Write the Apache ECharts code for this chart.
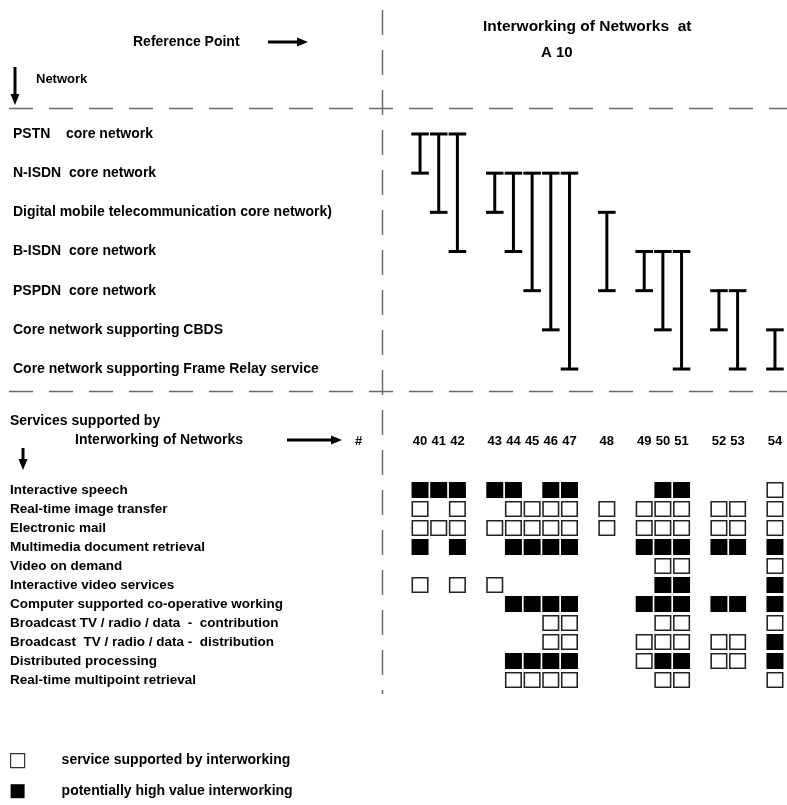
<!DOCTYPE html>
<html><head><meta charset="utf-8">
<script src="https://cdn.jsdelivr.net/npm/echarts@6/dist/echarts.min.js"></script>
<style>html,body{margin:0;padding:0;background:#fff}#c{width:787px;height:805px}</style>
</head><body><div id="c"></div>
<script>
// ---------- data ----------
const networks = [
  'PSTN    core network',
  'N-ISDN  core network',
  'Digital mobile telecommunication core network)',
  'B-ISDN  core network',
  'PSPDN  core network',
  'Core network supporting CBDS',
  'Core network supporting Frame Relay service'
];
// interworking case numbers, in visual groups
const columnGroups = [['40','41','42'], ['43','44','45','46','47'], ['48'], ['49','50','51'], ['52','53'], ['54']];
// for each case 40..54: [network index, network index] that are interworked
const links = [[0,1],[0,2],[0,3],[1,2],[1,3],[1,4],[1,5],[1,6],[2,4],[3,4],[3,5],[3,6],[4,5],[4,6],[5,6]];
const services = [
  'Interactive speech',
  'Real-time image transfer',
  'Electronic mail',
  'Multimedia document retrieval',
  'Video on demand',
  'Interactive video services',
  'Computer supported co-operative working',
  'Broadcast TV / radio / data  -  contribution',
  'Broadcast  TV / radio / data -  distribution',
  'Distributed processing',
  'Real-time multipoint retrieval'
];
// per service, one code per case 40..54: O = supported, F = potentially high value, . = none
const support = [
  'FFFFF.FF..FF..O',
  'O.O.OOOOOOOOOOO',
  'OOOOOOOOOOOOOOO',
  'F.F.FFFF.FFFFFF',
  '..........OO..O',
  'O.OO......FF..F',
  '....FFFF.FFFFFF',
  '......OO..OO..O',
  '......OO.OOOOOF',
  '....FFFF.OFFOOF',
  '....OOOO..OO..O'
];
const legendNames = ['service supported by interworking', 'potentially high value interworking'];

// ---------- build ----------
const slots = [];
columnGroups.forEach((g, i) => { if (i > 0) slots.push(' '.repeat(i)); slots.push(...g); });
const cases = columnGroups.flat();
const slotOf = cases.map(c => slots.indexOf(c));

const linkData = links.map((l, i) => [slotOf[i], l[0], l[1]]);
const openData = [], fullData = [];
support.forEach((row, si) => {
  row.split('').forEach((ch, ci) => {
    if (ch === 'O') openData.push([slotOf[ci], si]);
    else if (ch === 'F') fullData.push([slotOf[ci], si]);
  });
});

const FONT = 'Liberation Sans';
const label = (x, y, s, size) => ({ type: 'text', x: x, y: y, silent: true,
  style: { text: s, fill: '#000', font: 'bold ' + (size || 14) + 'px "' + FONT + '"', textVerticalAlign: 'middle', textAlign: 'left' } });
function arrow(x1, y1, x2, y2) {
  const horiz = y1 === y2;
  const L = 11, W = 4.5;
  let shaftEnd, head;
  if (horiz) {
    shaftEnd = [x2 - L + 1, y2];
    head = [[x2, y2], [x2 - L, y2 - W], [x2 - L, y2 + W]];
  } else {
    shaftEnd = [x2, y2 - L + 1];
    head = [[x2, y2], [x2 - W, y2 - L], [x2 + W, y2 - L]];
  }
  return { type: 'group', silent: true, children: [
    { type: 'line', shape: { x1: x1, y1: y1, x2: shaftEnd[0], y2: shaftEnd[1] }, style: { stroke: '#000', lineWidth: 3 } },
    { type: 'polygon', shape: { points: head }, style: { fill: '#000' } }
  ]};
}
const dashStyle = { stroke: '#6a6a6a', lineWidth: 1.5 };

const gridLeft = 410.7, gridW = 373.6;
const option = {
  animation: false,
  backgroundColor: '#fff',
  textStyle: { fontFamily: FONT },
  grid: [
    { left: gridLeft, width: gridW, top: 114.4, height: 274.2 },
    { left: gridLeft, width: gridW, top: 480.5, height: 209 }
  ],
  xAxis: [
    { gridIndex: 0, type: 'category', data: slots, show: false },
    { gridIndex: 1, type: 'category', data: slots, position: 'top',
      axisLine: { show: false }, axisTick: { show: false },
      axisLabel: { interval: 0, margin: 33, color: '#000', fontWeight: 'bold', fontSize: 13, fontFamily: FONT } }
  ],
  yAxis: [
    { gridIndex: 0, type: 'category', data: networks, inverse: true,
      axisLine: { show: false }, axisTick: { show: false },
      axisLabel: { align: 'left', margin: gridLeft - 13, color: '#000', fontWeight: 'bold', fontSize: 14, fontFamily: FONT } },
    { gridIndex: 1, type: 'category', data: services, inverse: true,
      axisLine: { show: false }, axisTick: { show: false },
      axisLabel: { align: 'left', margin: gridLeft - 10, color: '#000', fontWeight: 'bold', fontSize: 13.5, fontFamily: FONT } }
  ],
  legend: {
    orient: 'vertical', left: 10, top: 753, padding: 0, itemWidth: 14, itemHeight: 14, itemGap: 16,
    selectedMode: false,
    textStyle: { color: '#000', fontWeight: 'bold', fontSize: 14, fontFamily: FONT, padding: [0, 0, 0, 32] },
    data: [
      { name: legendNames[0], icon: 'rect', itemStyle: { color: '#fff', borderColor: '#333', borderWidth: 1.2 } },
      { name: legendNames[1], icon: 'rect', itemStyle: { color: '#000' } }
    ]
  },
  series: [
    { type: 'custom', xAxisIndex: 0, yAxisIndex: 0, silent: true,
      encode: { x: 0, y: [1, 2] }, data: linkData,
      renderItem: function (params, api) {
        const x = api.value(0);
        const p1 = api.coord([x, api.value(1)]), p2 = api.coord([x, api.value(2)]);
        const w = api.size([1, 0])[0] * 0.47;
        const st = { stroke: '#000', lineWidth: 3 };
        return { type: 'group', children: [
          { type: 'line', shape: { x1: p1[0], y1: p1[1], x2: p2[0], y2: p2[1] }, style: st },
          { type: 'line', shape: { x1: p1[0] - w, y1: p1[1], x2: p1[0] + w, y2: p1[1] }, style: st },
          { type: 'line', shape: { x1: p2[0] - w, y1: p2[1], x2: p2[0] + w, y2: p2[1] }, style: st }
        ]};
      } },
    { name: legendNames[0], type: 'scatter', xAxisIndex: 1, yAxisIndex: 1, silent: true,
      symbol: 'rect', symbolSize: [15.5, 14.5], data: openData,
      itemStyle: { color: '#fff', borderColor: '#222', borderWidth: 1.5, opacity: 1 } },
    { name: legendNames[1], type: 'scatter', xAxisIndex: 1, yAxisIndex: 1, silent: true,
      symbol: 'rect', symbolSize: [17, 16], data: fullData,
      itemStyle: { color: '#000', opacity: 1 } }
  ],
  graphic: [
    { type: 'line', silent: true, shape: { x1: 9, y1: 108.5, x2: 787, y2: 108.5 }, style: Object.assign({ lineDash: [24, 16] }, dashStyle) },
    { type: 'line', silent: true, shape: { x1: 9, y1: 391.5, x2: 787, y2: 391.5 }, style: Object.assign({ lineDash: [24, 16] }, dashStyle) },
    { type: 'line', silent: true, shape: { x1: 382.5, y1: 10, x2: 382.5, y2: 694 }, style: Object.assign({ lineDash: [25, 15] }, dashStyle) },
    label(133, 42, 'Reference Point'),
    arrow(268, 42, 308, 42),
    label(483, 27, 'Interworking of Networks  at', 15.5),
    label(541, 53, 'A 10', 15),
    label(36, 79, 'Network', 13),
    arrow(15, 67, 15, 105),
    label(10, 421, 'Services supported by'),
    label(75, 440, 'Interworking of Networks'),
    arrow(287, 440, 342, 440),
    label(355, 441, '#', 13),
    arrow(23, 448, 23, 470)
  ]
};
const chart = echarts.init(document.getElementById('c'), null, { renderer: 'canvas' });
chart.setOption(option);
</script>
</body></html>
